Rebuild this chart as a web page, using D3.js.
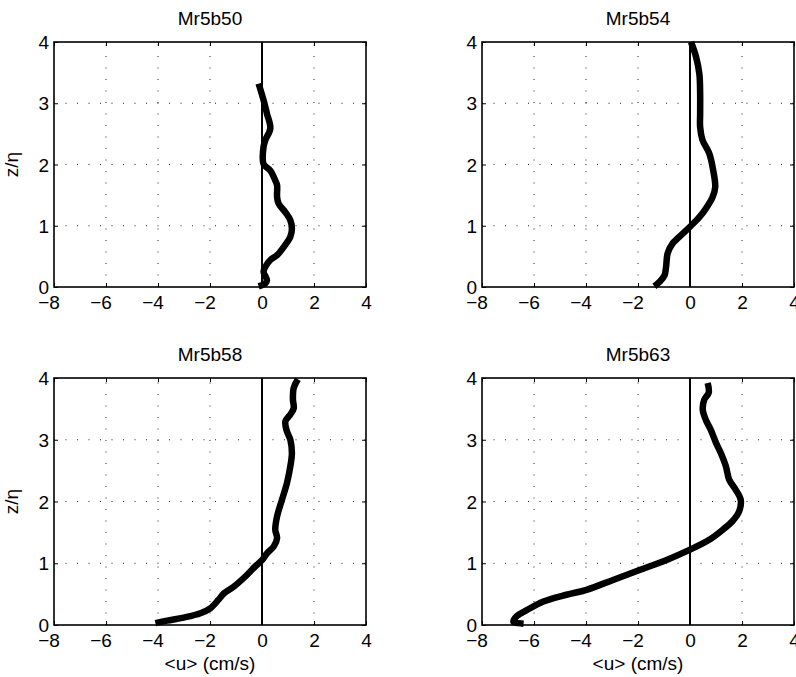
<!DOCTYPE html>
<html>
<head>
<meta charset="utf-8">
<script src="https://cdn.jsdelivr.net/npm/d3@7"></script>
<style>
  html, body { margin: 0; padding: 0; background: #fff; }
  svg { display: block; font-family: "Liberation Sans", Arial, Helvetica, sans-serif; }
</style>
</head>
<body>
<svg id="chart" width="796" height="677"></svg>
<script>
// ---- data ----
const titles = ["Mr5b50", "Mr5b54", "Mr5b58", "Mr5b63"];
const xTicks = [-8, -6, -4, -2, 0, 2, 4];
const yTicks = [0, 1, 2, 3, 4];
const xLabel = "<u> (cm/s)";
const yLabel = "z/η";

const u50 = [-0.13, 0.13, 0.19, 0.06, 0.13, 0.32, 0.58, 0.83, 1.09, 1.15, 1.09, 0.90, 0.64, 0.58, 0.58, 0.51, 0.32, 0.06, 0.06, 0.13, 0.32, 0.19, 0.06, -0.13];
const z50 = [0.01, 0.06, 0.11, 0.25, 0.33, 0.44, 0.52, 0.65, 0.82, 0.95, 1.09, 1.22, 1.36, 1.47, 1.66, 1.74, 1.90, 2.01, 2.29, 2.40, 2.59, 2.83, 3.05, 3.32];

const u54 = [-1.37, -1.18, -0.98, -0.92, -0.86, -0.67, -0.28, 0.04, 0.36, 0.61, 0.87, 0.97, 0.89, 0.74, 0.48, 0.39, 0.39, 0.39, 0.36, 0.23, 0.04];
const z54 = [0.01, 0.08, 0.19, 0.33, 0.55, 0.71, 0.87, 1.00, 1.14, 1.28, 1.47, 1.63, 1.91, 2.18, 2.40, 2.61, 2.83, 3.16, 3.48, 3.76, 4.00];

const u58 = [-4.10, -3.65, -3.01, -2.37, -1.99, -1.67, -1.47, -1.09, -0.58, -0.26, 0.00, 0.19, 0.45, 0.58, 0.51, 0.58, 0.77, 0.96, 1.09, 1.15, 1.09, 0.94, 0.90, 1.09, 1.22, 1.19, 1.22, 1.38];
const z58 = [0.03, 0.07, 0.12, 0.19, 0.27, 0.41, 0.51, 0.62, 0.81, 0.95, 1.05, 1.16, 1.27, 1.41, 1.54, 1.76, 2.03, 2.30, 2.57, 2.78, 3.00, 3.16, 3.30, 3.41, 3.51, 3.65, 3.84, 3.98];

const u63 = [-6.40, -6.60, -6.79, -6.67, -6.28, -5.64, -4.75, -3.98, -2.96, -1.94, -0.92, 0.00, 0.74, 1.25, 1.63, 1.89, 1.95, 1.76, 1.51, 1.38, 1.19, 1.00, 0.80, 0.61, 0.49, 0.55, 0.72, 0.68];
const z63 = [0.02, 0.03, 0.05, 0.14, 0.24, 0.38, 0.49, 0.57, 0.73, 0.89, 1.05, 1.22, 1.38, 1.54, 1.68, 1.84, 2.03, 2.19, 2.35, 2.57, 2.78, 2.95, 3.16, 3.32, 3.49, 3.65, 3.76, 3.92];

const seriesU = [u50, u54, u58, u63];
const seriesZ = [z50, z54, z58, z63];

// ---- layout ----
const boxes = [
  {l: 54,  t: 42,  w: 312, h: 245},
  {l: 482, t: 42,  w: 312, h: 245},
  {l: 54,  t: 378, w: 312, h: 247},
  {l: 482, t: 378, w: 312, h: 247}
];
const TICK_FS = 19, TITLE_FS = 19, LABEL_FS = 19;

const svg = d3.select("#chart");
const fmt = d => (d < 0 ? "\u2212" + Math.abs(d) : String(d));

boxes.forEach((b, i) => {
  const g = svg.append("g").attr("transform", `translate(${b.l},${b.t})`);
  const x = d3.scaleLinear().domain([-8, 4]).range([0, b.w]);
  const y = d3.scaleLinear().domain([0, 4]).range([b.h, 0]);

  // dotted grid
  const grid = g.append("g");
  grid.selectAll("line.gx").data(xTicks.slice(1, -1)).join("line")
    .attr("x1", d => x(d)).attr("x2", d => x(d))
    .attr("y1", b.h).attr("y2", 0)
    .attr("stroke", "#222").attr("stroke-width", 1)
    .attr("stroke-dasharray", "1,10.5");
  grid.selectAll("line.gy").data(yTicks.slice(1, -1)).join("line")
    .attr("x1", 0).attr("x2", b.w)
    .attr("y1", d => y(d)).attr("y2", d => y(d))
    .attr("stroke", "#222").attr("stroke-width", 1)
    .attr("stroke-dasharray", "1,10.5");

  // axes (ticks inward on all sides)
  const ax = (axis, tr) => g.append("g").attr("transform", tr).call(axis)
    .attr("font-family", null)
    .call(s => s.select(".domain").remove())
    .call(s => s.selectAll("line").attr("stroke", "#000").attr("stroke-width", 1));
  const bottom = ax(d3.axisBottom(x).tickValues(xTicks).tickSize(-4).tickFormat(fmt), `translate(0,${b.h})`);
  bottom.attr("font-size", TICK_FS);
  bottom.selectAll("text").attr("dy", null).attr("y", 22)
    .attr("text-anchor", "end").attr("x", TICK_FS * 0.278)
    .attr("font-size", TICK_FS).attr("fill", "#000");
  const left = ax(d3.axisLeft(y).tickValues(yTicks).tickSize(-4).tickFormat(fmt), "translate(0,0)");
  left.attr("font-size", TICK_FS);
  left.selectAll("text").attr("dy", "0.35em").attr("x", -5).attr("font-size", TICK_FS).attr("fill", "#000");
  ax(d3.axisTop(x).tickValues(xTicks).tickSize(-4).tickFormat(""), "translate(0,0)");
  ax(d3.axisRight(y).tickValues(yTicks).tickSize(-4).tickFormat(""), `translate(${b.w},0)`);

  // frame
  g.append("rect").attr("x", 0).attr("y", 0).attr("width", b.w).attr("height", b.h)
    .attr("fill", "none").attr("stroke", "#000").attr("stroke-width", 1.6);

  // zero line
  g.append("line").attr("x1", x(0)).attr("x2", x(0)).attr("y1", y(0)).attr("y2", y(4))
    .attr("stroke", "#000").attr("stroke-width", 2);

  // profile
  const pts = seriesU[i].map((u, k) => [u, seriesZ[i][k]]);
  const line = d3.line().x(d => x(d[0])).y(d => y(d[1])).curve(d3.curveCatmullRom.alpha(0.5));
  g.append("path").attr("d", line(pts)).attr("fill", "none")
    .attr("stroke", "#000").attr("stroke-width", 6.5)
    .attr("stroke-linejoin", "round").attr("stroke-linecap", "butt");

  // title
  g.append("text").attr("x", b.w / 2).attr("y", -17).attr("text-anchor", "middle")
    .attr("font-size", TITLE_FS).text(titles[i]);

  // axis labels
  if (i % 2 === 0) {
    g.append("text").attr("transform", `translate(${-36},${b.h / 2}) rotate(-90)`)
      .attr("text-anchor", "middle").attr("font-size", LABEL_FS).text(yLabel);
  }
  if (i >= 2) {
    g.append("text").attr("x", b.w / 2).attr("y", b.h + 45).attr("text-anchor", "middle")
      .attr("font-size", LABEL_FS).text(xLabel);
  }
});
</script>
</body>
</html>
